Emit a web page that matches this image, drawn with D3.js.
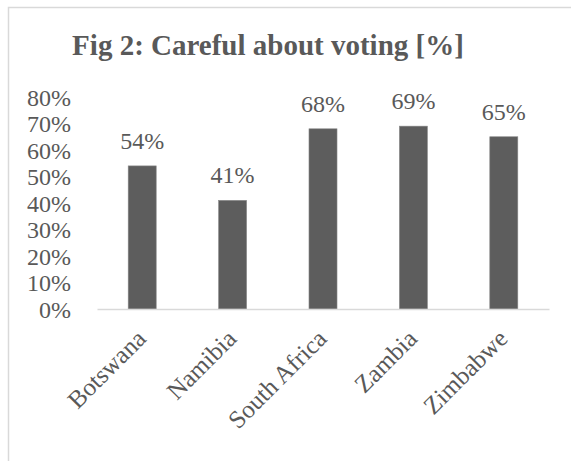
<!DOCTYPE html>
<html>
<head>
<meta charset="utf-8">
<script src="https://cdn.jsdelivr.net/npm/d3@7"></script>
<style>
  html, body { margin: 0; padding: 0; background: #fff; }
  svg { display: block; }
</style>
</head>
<body>
<svg id="chart" width="571" height="461"></svg>
<script>
// Share of respondents who say they are careful about voting
const countries = ["Botswana", "Namibia", "South Africa", "Zambia", "Zimbabwe"];
const careful = [0.54, 0.41, 0.68, 0.69, 0.65];
const yTicks = [0, 0.1, 0.2, 0.3, 0.4, 0.5, 0.6, 0.7, 0.8];
const title = "Fig 2: Careful about voting [%]";

const svg = d3.select("#chart");
const W = 571, H = 461;
const font = "'Liberation Serif', 'Times New Roman', serif";
const ink = "#595959";
const barFill = "#5d5d5d";
const rule = "#d9d9d9";
const labelSize = 24;

// chart frame
svg.append("rect")
  .attr("x", 8.5).attr("y", 7.5)
  .attr("width", W + 10).attr("height", H + 10)
  .attr("fill", "#fff").attr("stroke", rule).attr("stroke-width", 1.5);

const plot = { left: 97, right: 549, top: 97, bottom: 309 };

const x = d3.scaleBand()
  .domain(countries)
  .range([plot.left, plot.right])
  .paddingInner(0.69)
  .paddingOuter(0.345);

const y = d3.scaleLinear()
  .domain([0, 0.8])
  .range([plot.bottom, plot.top]);

const pct = d3.format(".0%");

// title
svg.append("text")
  .attr("x", 268).attr("y", 55)
  .attr("text-anchor", "middle")
  .attr("font-family", font).attr("font-weight", "bold")
  .attr("font-size", 29).attr("fill", ink)
  .text(title);

// y axis labels
const yAxis = d3.axisLeft(y).tickValues(yTicks).tickFormat(pct).tickSize(0).tickPadding(26);
const gy = svg.append("g").attr("transform", `translate(${plot.left},0)`).call(yAxis);
gy.attr("font-family", font).attr("font-size", labelSize);
gy.select(".domain").remove();
gy.selectAll("text")
  .attr("fill", ink)
  .attr("dy", "0.34em");

// bars
svg.append("g").selectAll("rect")
  .data(countries)
  .join("rect")
  .attr("x", d => x(d))
  .attr("width", x.bandwidth())
  .attr("y", (d, i) => y(careful[i]))
  .attr("height", (d, i) => y(0) - y(careful[i]))
  .attr("fill", barFill)
  .attr("stroke", "#8a8a8a")
  .attr("stroke-width", 0.6);

// value labels
svg.append("g")
  .attr("font-family", font).attr("font-size", labelSize)
  .selectAll("text")
  .data(countries)
  .join("text")
  .attr("x", d => x(d) + x.bandwidth() / 2)
  .attr("y", (d, i) => y(careful[i]) - 17)
  .attr("text-anchor", "middle")
  .attr("fill", ink)
  .text((d, i) => pct(careful[i]));

// x axis
const xAxis = d3.axisBottom(x).tickSize(0).tickPadding(0);
const gx = svg.append("g").attr("transform", `translate(0,${plot.bottom})`).call(xAxis);
gx.attr("font-family", font).attr("font-size", 25);
gx.select(".domain").attr("stroke", rule).attr("stroke-width", 1.5);
gx.selectAll("text")
  .attr("fill", ink)
  .attr("text-anchor", "end")
  .attr("dy", "0.35em")
  .attr("transform", "translate(-1,25) rotate(-45)");
</script>
</body>
</html>
